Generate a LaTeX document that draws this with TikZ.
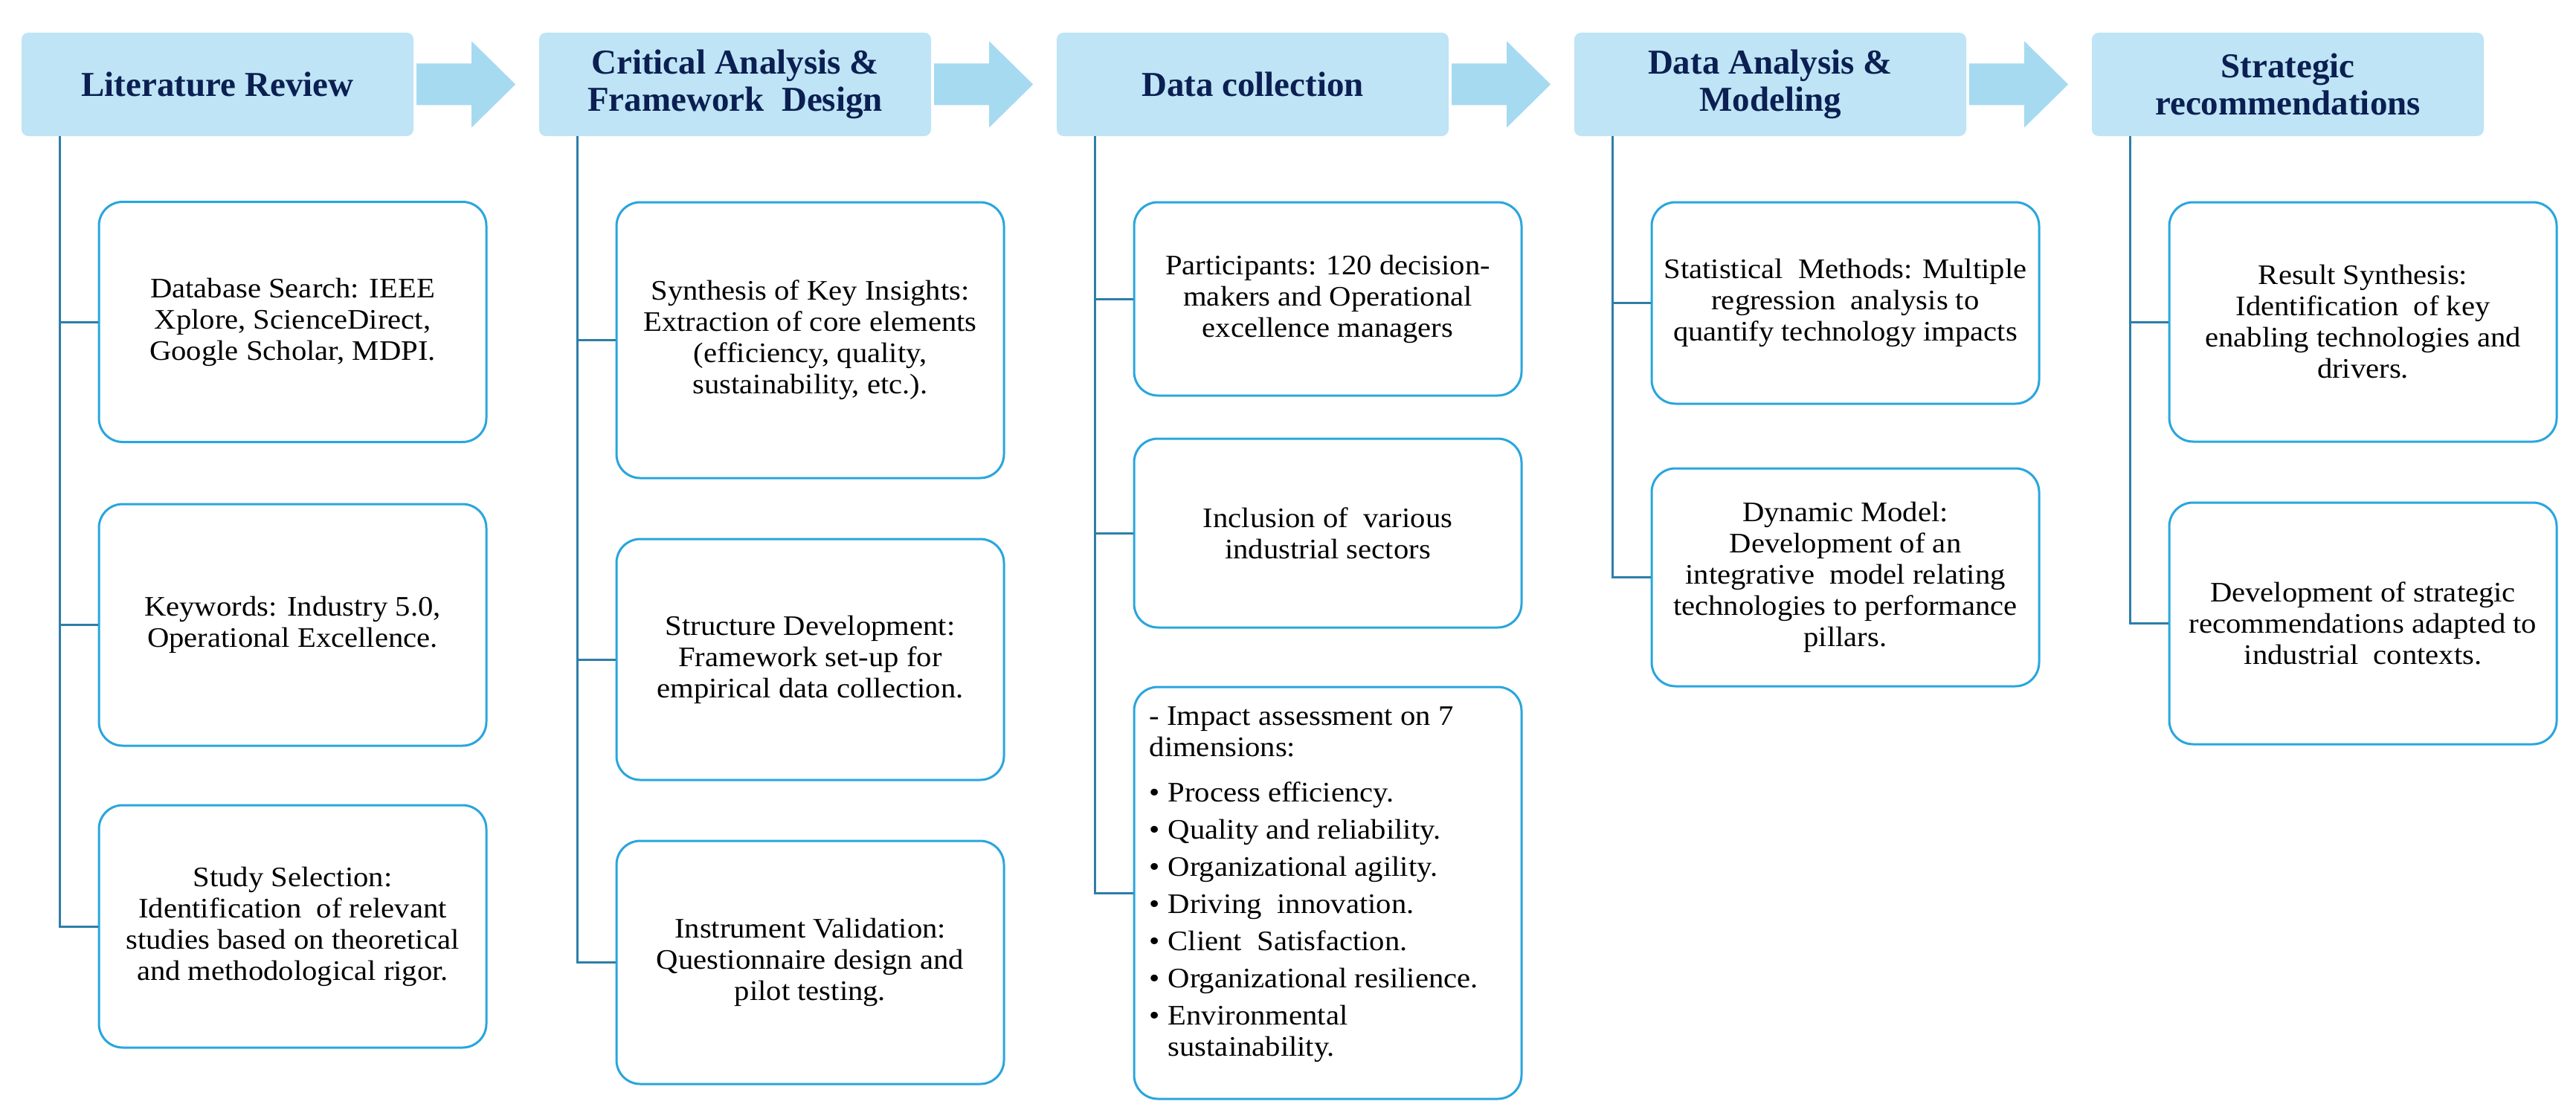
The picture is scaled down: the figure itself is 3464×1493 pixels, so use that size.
\documentclass[tikz,border=0pt]{standalone}
\usepackage{fontspec}
\setmainfont{Liberation Serif}
\newfontfamily\boxfont[FakeStretch=1.07]{Liberation Serif}
\usetikzlibrary{calc}
\definecolor{hdrfill}{HTML}{BEE4F5}
\definecolor{arrowfill}{HTML}{A6DAF1}
\definecolor{hdrtext}{HTML}{0B1F52}
\definecolor{boxline}{HTML}{29A6DE}
\definecolor{trunkcol}{HTML}{2E7EA8}
\tikzset{
  hdr/.style={fill=hdrfill, rounded corners=9pt, inner sep=0pt,
    minimum width=527pt, minimum height=139pt, align=center,
    text=hdrtext, font=\bfseries\fontsize{47}{50}\selectfont},
  item/.style={draw=boxline, line width=3pt, rounded corners=32pt, fill=white,
    inner sep=0pt, minimum width=521pt, align=center,
    font=\boxfont\fontsize{38}{42}\selectfont},
  listtext/.style={anchor=north west, align=left, inner sep=0pt,
    font=\boxfont\fontsize{38}{42}\selectfont},
  trunk/.style={draw=trunkcol, line width=3pt},
  flowarrow/.style={fill=arrowfill},
}
\newcommand{\bul}{\makebox[25pt][l]{\textbullet}}
\begin{document}
\begin{tikzpicture}[x=1pt,y=-1pt]
\useasboundingbox (0,0) rectangle (3464,1493);

% phase headers
\node[hdr] (h1) at (292.5,113.5) {Literature Review};
\node[hdr] (h2) at (988.5,113.5) {Critical Analysis \&\\Framework\ \ Design};
\node[hdr] (h3) at (1684.5,113.5) {Data collection};
\node[hdr] (h4) at (2380.5,113.5) {Data Analysis \&\\Modeling};
\node[hdr] (h5) at (3076.5,113.5) {Strategic\\recommendations};

% block arrows between phases
\foreach \a in {h1,h2,h3,h4}{
  \fill[flowarrow] ($(\a.east)+(4,-28)$) -- ++(74,0) -- ++(0,-30) -- ++(59,58)
    -- ++(-59,58) -- ++(0,-30) -- ++(-74,0) -- cycle;
}

% column 1
\node[item, minimum height=323pt] (b11) at (393.5,433) {Database Search: IEEE\\Xplore, ScienceDirect,\\Google Scholar, MDPI.};
\node[item, minimum height=325pt] (b12) at (393.5,840.5) {Keywords: Industry 5.0,\\Operational Excellence.};
\node[item, minimum height=326pt] (b13) at (393.5,1246) {Study Selection:\\Identification\ \ of relevant\\studies based on theoretical\\and methodological rigor.};

% column 2
\node[item, minimum height=371pt] (b21) at (1089.5,457.5) {Synthesis of Key Insights:\\Extraction of core elements\\(efficiency, quality,\\sustainability, etc.).};
\node[item, minimum height=324pt] (b22) at (1089.5,887) {Structure Development:\\Framework set-up for\\empirical data collection.};
\node[item, minimum height=327pt] (b23) at (1089.5,1294.5) {Instrument Validation:\\Questionnaire design and\\pilot testing.};

% column 3
\node[item, minimum height=260pt] (b31) at (1785.5,402) {Participants: 120 decision-\\makers and Operational\\excellence managers};
\node[item, minimum height=254pt] (b32) at (1785.5,717) {Inclusion of\ \ various\\industrial sectors};
\node[item, minimum height=554pt] (b33) at (1785.5,1201) {};
\node[listtext] (b33t) at ($(b33.north west)+(22,28)$)
  {- Impact assessment on 7\\dimensions:\\[19pt]
   \bul Process efficiency.\\[8pt]
   \bul Quality and reliability.\\[8pt]
   \bul Organizational agility.\\[8pt]
   \bul Driving\ \ innovation.\\[8pt]
   \bul Client\ \ Satisfaction.\\[8pt]
   \bul Organizational resilience.\\[8pt]
   \bul Environmental\\
   \hspace*{25pt}sustainability.};

% column 4
\node[item, minimum height=271pt] (b41) at (2481.5,407.5) {Statistical\ \ Methods: Multiple\\regression\ \ analysis to\\quantify technology impacts};
\node[item, minimum height=293pt] (b42) at (2481.5,776.5) {Dynamic Model:\\Development of an\\integrative\ \ model relating\\technologies to performance\\pillars.};

% column 5
\node[item, minimum height=322pt] (b51) at (3177.5,433) {Result Synthesis:\\Identification\ \ of key\\enabling technologies and\\drivers.};
\node[item, minimum height=325pt] (b52) at (3177.5,838.5) {Development of strategic\\recommendations adapted to\\industrial\ \ contexts.};

% trunk lines from each header to its boxes
\foreach \h/\last/\others in {h1/b13/{b11,b12}, h2/b23/{b21,b22}, h3/b33/{b31,b32}, h4/b42/{b41}, h5/b52/{b51}}{
  \coordinate (r) at ($(\h.south west)+(52,0)$);
  \draw[trunk] (r) |- (\last.west);
  \foreach \b in \others { \draw[trunk] (r |- \b.west) -- (\b.west); }
}
\end{tikzpicture}
\end{document}
